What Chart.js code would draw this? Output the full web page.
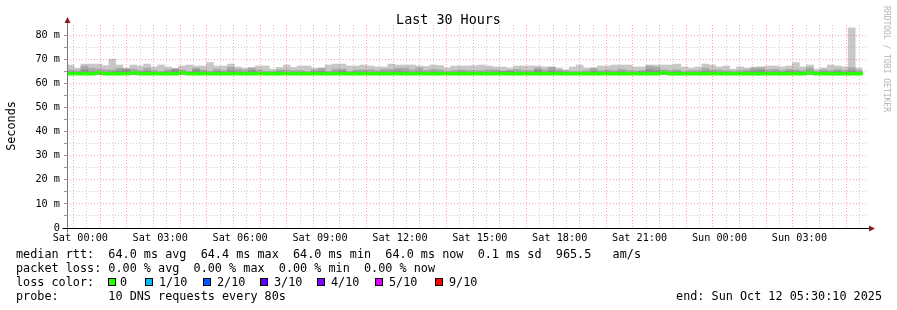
<!DOCTYPE html>
<html>
<head>
<meta charset="utf-8">
<script src="https://cdn.jsdelivr.net/npm/chart.js@4.4.1/dist/chart.umd.min.js"></script>
<style>
  html, body { margin: 0; padding: 0; background: #fff; }
  #wrap { position: relative; width: 897px; height: 310px; overflow: hidden;
          font-family: 'DejaVu Sans Mono', monospace; color: #000; }
  #wrap canvas { position: absolute; left: 0; top: 0; }
  .t { position: absolute; white-space: pre; line-height: 14px; font-size: 11.8px; }
  .box { position: absolute; width: 6px; height: 6px; border: 1px solid #000; top: 278px; }
</style>
</head>
<body>
<div id="wrap">
  <canvas id="c" width="897" height="310"></canvas>
  <div class="t" id="title" style="left:0;width:897px;top:12px;text-align:center;font-size:13.4px;line-height:16px;">Last 30 Hours</div>
  <div class="t" style="left:-29px;top:119px;width:80px;text-align:center;transform:rotate(-90deg);">Seconds</div>
  <div class="t" style="left:826px;top:54px;width:120px;text-align:center;font-size:8px;line-height:10px;color:#b4b4b4;transform:rotate(90deg);">RRDTOOL / TOBI OETIKER</div>
  <div class="t" id="row1" style="left:16px;top:247px;"></div>
  <div class="t" id="row2" style="left:16px;top:261px;"></div>
  <div class="t" id="row3" style="left:16px;top:275px;">loss color:</div>
  <div class="t" id="row4" style="left:16px;top:289px;"></div>
  <div class="t" id="endTime" style="right:15px;top:289px;"></div>
</div>
<script>
// smoke layers (ms), one value per consolidated step, Fri 23:30 -> Sun 05:30
var hiSmoke = [
  67.6,66.3,68.0,68.0,68.0,67.4,70.0,67.6,66.3,67.6,67.2,68.0,66.8,67.6,66.8,66.1,67.2,67.6,67.2,67.2,68.6,
  67.2,67.2,68.0,66.8,66.3,66.6,67.2,67.2,65.9,66.6,67.6,66.6,67.2,67.2,66.3,66.3,67.6,68.0,68.0,67.2,67.2,
  67.6,67.2,66.8,66.8,68.0,67.6,67.6,67.6,67.2,67.0,67.6,67.4,66.4,67.2,67.2,67.2,67.4,67.6,67.2,66.8,66.8,
  66.4,67.2,67.2,67.2,67.2,66.8,66.8,66.4,65.6,66.8,67.6,66.4,66.4,67.2,67.2,67.6,67.6,67.6,66.8,66.8,67.6,
  67.6,67.6,67.6,68.0,66.8,66.4,66.8,68.0,67.6,66.8,67.2,65.9,66.8,66.4,66.8,66.8,67.2,67.2,66.8,67.2,68.6,
  66.8,67.6,65.9,66.4,67.6,67.2,66.8,83.0,66.4
];
var midSmoke = [
  65.6,65.3,67.2,66.3,65.9,65.6,65.6,66.3,66.1,65.9,65.3,66.3,65.3,64.9,65.6,66.1,65.6,64.9,66.3,65.6,65.1,
  65.9,65.3,66.7,65.9,65.6,66.3,65.6,64.9,64.9,65.6,65.6,65.3,65.3,64.9,65.6,66.3,64.9,65.9,65.9,64.9,65.6,
  65.6,65.6,65.3,65.8,65.8,66.3,66.3,65.6,66.3,65.3,65.8,65.6,64.9,65.3,65.6,65.3,65.3,65.3,65.6,65.6,65.1,
  65.1,65.8,65.3,65.3,66.3,65.6,66.7,65.6,65.3,64.9,64.9,65.3,66.3,65.3,65.6,65.3,65.8,65.3,65.1,65.3,67.2,
  66.7,65.6,65.3,65.6,64.9,65.3,65.3,66.3,65.6,65.6,65.3,65.1,65.3,65.6,66.3,66.5,65.6,65.8,65.3,65.8,65.6,
  65.3,66.5,64.9,65.6,65.3,65.8,65.3,66.5,65.3
];
var darkSmoke = [
  64.8,64.6,65.6,64.8,64.6,64.6,64.8,65.2,65.6,64.8,64.6,65.0,64.6,64.6,64.8,65.6,64.6,64.6,65.6,64.8,64.6,
  65.0,64.6,65.2,64.8,64.6,65.2,64.6,64.6,64.6,64.8,64.6,64.6,64.6,64.6,64.8,65.0,64.6,64.8,65.2,64.6,64.8,
  64.8,64.6,64.6,64.8,64.8,65.2,64.8,64.6,64.8,64.6,64.8,64.6,64.6,64.6,64.8,64.6,64.6,64.6,64.6,64.8,65.0,
  65.2,64.6,64.6,64.6,65.4,64.6,65.2,64.8,64.6,64.6,64.6,64.6,65.0,64.6,64.8,64.6,64.8,64.6,64.6,64.8,65.6,
  65.2,64.8,64.6,64.8,64.6,64.6,64.6,65.0,64.8,64.6,64.6,64.6,64.6,64.8,65.2,65.4,64.6,64.8,64.6,65.0,64.8,
  64.6,65.2,64.6,64.8,64.6,65.0,64.6,65.2,64.6
];
var medianRtt = [
  64.0,64.0,64.0,64.0,64.4,64.0,64.0,64.0,64.0,64.4,64.0,64.0,64.0,64.0,64.0,64.0,64.4,64.0,64.0,64.0,64.0,
  64.0,64.0,64.0,64.0,64.0,64.0,64.0,64.0,64.0,64.0,64.0,64.0,64.0,64.0,64.0,64.0,64.0,64.0,64.0,64.0,64.0,
  64.0,64.0,64.0,64.0,64.0,64.0,64.0,64.0,64.0,64.0,64.0,64.0,64.0,64.0,64.0,64.0,64.0,64.0,64.0,64.0,64.0,
  64.0,64.0,64.0,64.0,64.0,64.0,64.0,64.0,64.0,64.0,64.0,64.0,64.0,64.0,64.0,64.0,64.0,64.0,64.0,64.0,64.0,
  64.0,64.4,64.0,64.0,64.0,64.0,64.0,64.0,64.0,64.0,64.0,64.0,64.0,64.0,64.0,64.0,64.0,64.0,64.0,64.0,64.0,
  64.0,64.4,64.0,64.0,64.0,64.0,64.0,64.0,64.0
];
var smokeFloor = 63.8;

// time axis in hours relative to Sat 00:00
var startHour = -0.5, endHour = 29.5, stepHours = 0.2619;
var binCenters = medianRtt.map(function(_, k) { return startHour + (k + 0.5) * stepHours; });
var dayNames = ['Sat', 'Sun'];
var yTicks = [0, 5, 10, 15, 20, 25, 30, 35, 40, 45, 50, 55, 60, 65, 70, 75, 80];

var legendRows = [
  'median rtt:  64.0 ms avg  64.4 ms max  64.0 ms min  64.0 ms now  0.1 ms sd  965.5   am/s',
  'packet loss: 0.00 % avg  0.00 % max  0.00 % min  0.00 % now',
  '',
  'probe:       10 DNS requests every 80s'
];
var endText = 'end: Sun Oct 12 05:30:10 2025';
var lossLabels = ['0', '1/10', '2/10', '3/10', '4/10', '5/10', '9/10'];
var lossColors = ['#26ff00', '#00b8ff', '#0059ff', '#5e00ff', '#7e00ff', '#dd00ff', '#ff0000'];

// legend text
document.getElementById('row1').textContent = legendRows[0];
document.getElementById('row2').textContent = legendRows[1];
document.getElementById('row4').textContent = legendRows[3];
document.getElementById('endTime').textContent = endText;
var boxX = [108, 145, 203, 260, 317, 375, 435];
var wrap = document.getElementById('wrap');
lossLabels.forEach(function(lbl, i) {
  var b = document.createElement('div');
  b.className = 'box';
  b.style.left = boxX[i] + 'px';
  b.style.background = lossColors[i];
  wrap.appendChild(b);
  var t = document.createElement('div');
  t.className = 't';
  t.style.left = (boxX[i] + (i === 0 ? 12 : 14)) + 'px';
  t.style.top = '275px';
  t.textContent = lbl;
  wrap.appendChild(t);
});

function floating(values) {
  return values.map(function(v, k) { return { x: binCenters[k], y: [smokeFloor, v] }; });
}

var axisArrows = {
  id: 'axisArrows',
  afterDraw: function(chart) {
    var ctx = chart.ctx, a = chart.chartArea;
    var x0 = Math.round(a.left) + 0.5, y0 = Math.round(a.bottom) + 0.5;
    ctx.save();
    ctx.lineWidth = 1;
    ctx.strokeStyle = '#7a7a7a';
    ctx.beginPath(); ctx.moveTo(x0, y0 + 4); ctx.lineTo(x0, a.top - 3); ctx.stroke();
    ctx.strokeStyle = '#000';
    ctx.beginPath(); ctx.moveTo(x0 - 5, y0); ctx.lineTo(a.right + 3, y0); ctx.stroke();
    ctx.fillStyle = '#8b1a1a';
    ctx.beginPath(); ctx.moveTo(x0 - 3, a.top - 2); ctx.lineTo(x0 + 3, a.top - 2); ctx.lineTo(x0, a.top - 8); ctx.closePath(); ctx.fill();
    ctx.beginPath(); ctx.moveTo(a.right + 3, y0 - 3); ctx.lineTo(a.right + 3, y0 + 3); ctx.lineTo(a.right + 9, y0); ctx.closePath(); ctx.fill();
    ctx.restore();
  }
};

var RED = 'rgba(225,60,60,0.45)', GREY = 'rgba(150,150,150,0.45)';

new Chart(document.getElementById('c'), {
  type: 'bar',
  data: {
    datasets: [
      { label: 'median', data: medianRtt.map(function(m, k) { return { x: binCenters[k], y: [m - 0.6, m + 0.6] }; }),
        backgroundColor: lossColors[0], order: 0 },
      { label: 'smoke 3', data: floating(darkSmoke), backgroundColor: '#8c8c8c', order: 1 },
      { label: 'smoke 2', data: floating(midSmoke), backgroundColor: '#a8a8a8', order: 2 },
      { label: 'smoke 1', data: floating(hiSmoke), backgroundColor: '#c8c8c8', order: 3 }
    ]
  },
  options: {
    responsive: false,
    animation: false,
    layout: { padding: { left: 0, right: 31, top: 25, bottom: 0 } },
    datasets: { bar: { grouped: false, barPercentage: 1, categoryPercentage: 1, borderWidth: 0 } },
    plugins: { legend: { display: false }, tooltip: { enabled: false }, title: { display: false } },
    scales: {
      x: {
        type: 'linear', min: startHour, max: endHour, offset: false,
        grid: {
          z: 1, drawTicks: false, lineWidth: 1,
          color: function(c) { return c.tick && Math.abs(c.tick.value - Math.round(c.tick.value)) < 1e-6 ? RED : GREY; }
        },
        border: { display: false, dash: [1, 2] },
        ticks: {
          stepSize: 0.5, autoSkip: false, maxRotation: 0, padding: 4, color: '#000',
          font: { family: 'DejaVu Sans Mono', size: 10.2 },
          callback: function(v) {
            var r = Math.round(v);
            if (Math.abs(v - r) > 1e-6 || r % 3 !== 0 || r < 0) return '';
            var h = r % 24;
            return dayNames[Math.floor(r / 24)] + ' ' + (h < 10 ? '0' : '') + h + ':00';
          }
        },
        afterFit: function(s) { s.height = 82; }
      },
      y: {
        min: 0, max: 84.2,
        grid: {
          z: 1, drawTicks: true, tickLength: 3, lineWidth: 1, tickColor: '#999',
          color: function(c) { return c.tick && Math.round(c.tick.value) % 10 === 0 ? RED : GREY; }
        },
        border: { display: false, dash: [1, 2] },
        ticks: {
          autoSkip: false, padding: 4, color: '#000',
          font: { family: 'DejaVu Sans Mono', size: 10.2 },
          callback: function(v) {
            if (Math.round(v) % 10 !== 0) return '';
            return v === 0 ? '0' : v + ' m';
          }
        },
        afterBuildTicks: function(s) {
          s.ticks = yTicks.map(function(v) { return { value: v }; });
        },
        afterFit: function(s) { s.width = 67; }
      }
    }
  },
  plugins: [axisArrows]
});
</script>
</body>
</html>
